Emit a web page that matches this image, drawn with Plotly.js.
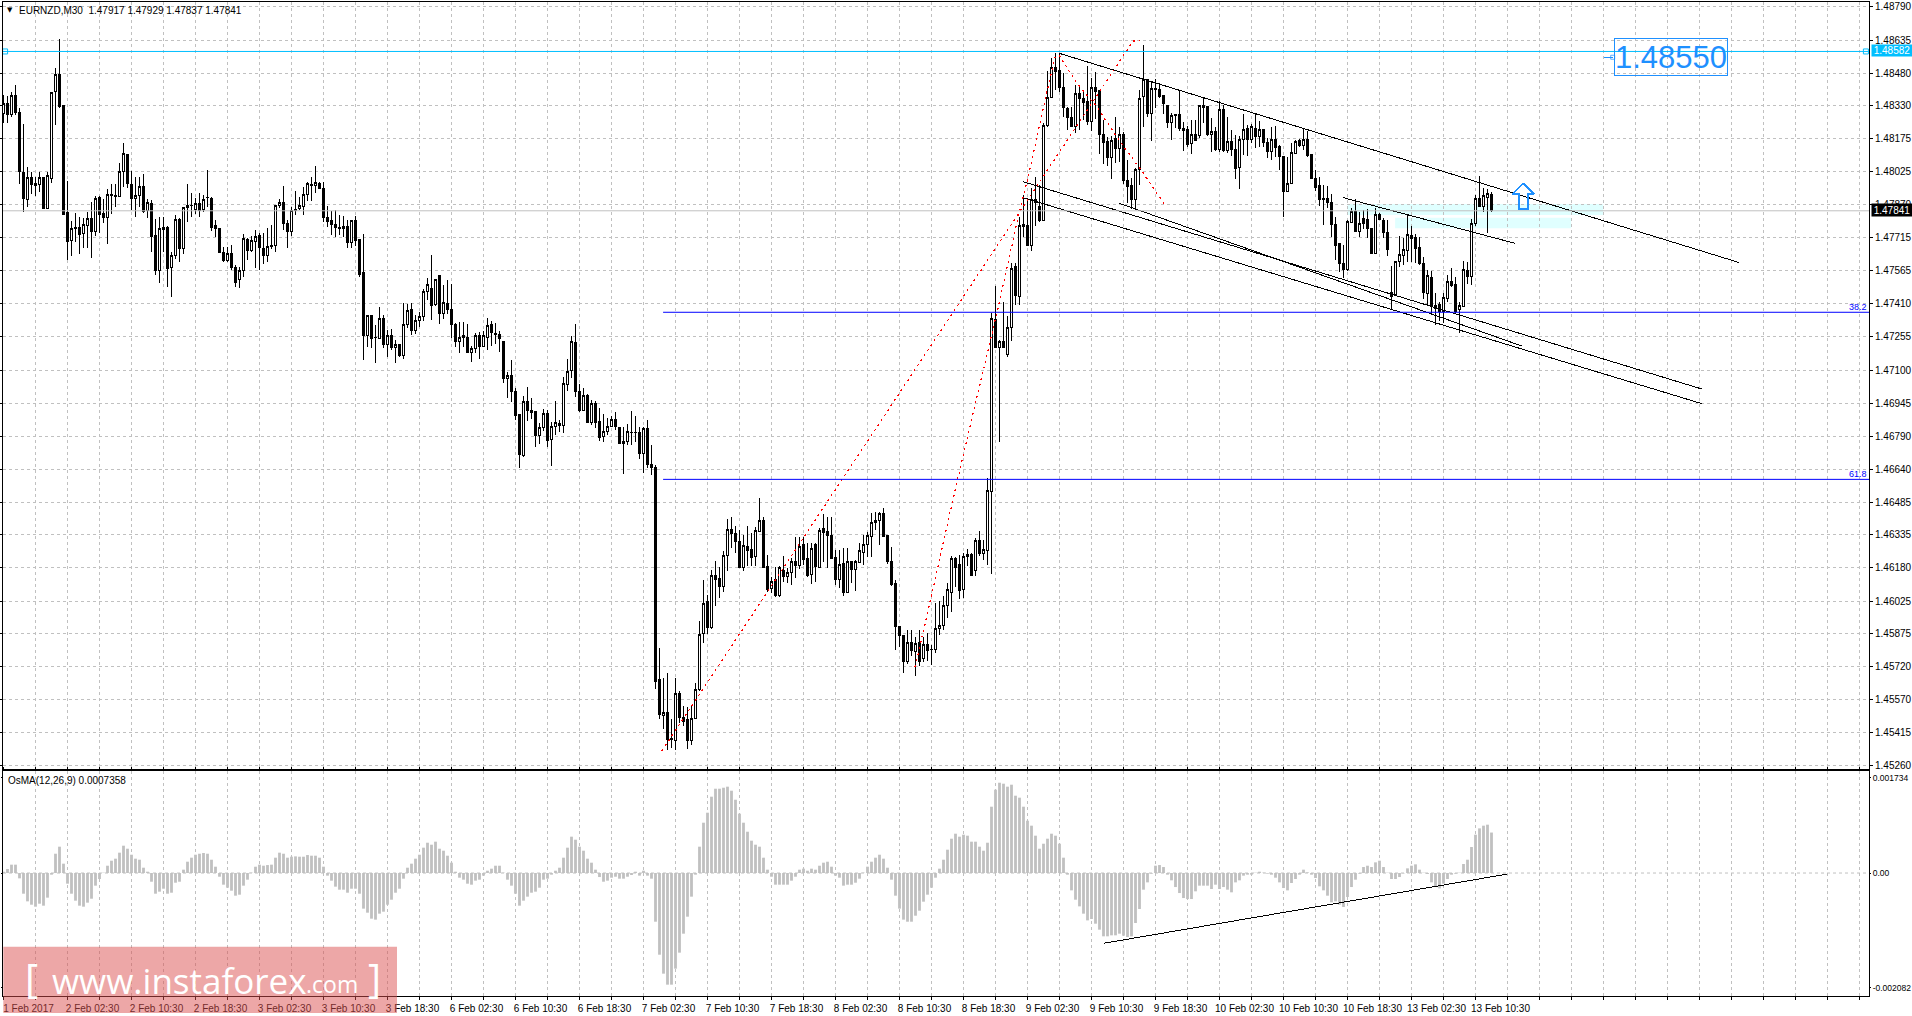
<!DOCTYPE html>
<html><head><meta charset="utf-8">
<script src="https://cdn.plot.ly/plotly-3.0.1.min.js"></script>
<style>html,body{margin:0;padding:0;background:#fff;overflow:hidden}#c{width:1912px;height:1016px}
.boxlayer path,.scatterlayer .js-line{shape-rendering:crispEdges}</style>
</head><body><div id="c"></div>
<script>
// prices are written as the five digits after the leading "1": 48294 = 1.48294
const opens=[48294,48341,48289,48375,48299,48021,47894,47996,47968,47964,47996,47852,47992,48395,48477,48333,47834,47702,47764,47764,
47736,47772,47806,47744,47903,47829,47810,47917,47914,47906,48024,48103,47964,47897,47910,47956,47843,47876,47724,47562,
47756,47764,47576,47635,47801,47665,47855,47865,47845,47876,47848,47903,47899,47773,47759,47648,47609,47643,47578,47522,
47562,47708,47655,47697,47724,47666,47634,47674,47680,47866,47880,47782,47744,47848,47852,47863,47916,47964,47958,47969,
47945,47812,47798,47779,47765,47758,47770,47694,47798,47708,47555,47259,47356,47251,47248,47341,47221,47262,47206,47220,
47170,47313,47383,47285,47330,47349,47465,47480,47403,47538,47362,47410,47383,47313,47232,47259,47254,47181,47201,47259,
47209,47252,47313,47271,47265,47234,47060,47076,47001,46894,46705,46955,46913,46908,46794,46832,46899,46778,46837,46852,
46842,47032,47096,47229,47001,46911,46983,46856,46945,46862,46790,46814,46837,46871,46832,46759,46769,46809,46809,46811,
46711,46829,46663,46648,45659,45493,45506,45383,45378,45597,45484,45473,45377,45479,45613,45873,46026,45902,46143,46129,
46093,46237,46360,46341,46301,46181,46282,46268,46232,46350,46401,46189,46084,46124,46054,46170,46139,46160,46212,46192,
46287,46222,46149,46291,46181,46364,46349,46333,46229,46127,46201,46065,46208,46174,46206,46253,46291,46325,46392,46400,
46434,46329,46212,46108,45910,45868,45744,45834,45791,45834,45757,45825,45802,45802,45899,45913,46005,46065,46225,46194,
46081,46232,46243,46167,46310,46246,46260,46535,47337,47206,47231,47174,47299,47581,47442,47775,47771,47678,47892,47861,
47798,48237,48367,48508,48493,48415,48319,48276,48232,48388,48364,48347,48254,48415,48400,48198,48163,48090,48175,48129,
48194,47984,47957,47892,48031,48372,48453,48295,48411,48406,48377,48333,48251,48284,48287,48226,48217,48152,48194,48189,
48332,48326,48195,48212,48124,48313,48121,48161,48124,48042,48174,48225,48174,48222,48186,48217,48158,48116,48174,48140,
48093,47930,47969,48109,48166,48143,48174,48104,47992,47957,47899,47899,47879,47775,47687,47597,47566,47788,47837,47744,
47803,47802,47760,47644,47826,47798,47741,47461,47450,47605,47634,47656,47727,47715,47668,47597,47458,47532,47388,47403,
47372,47433,47510,47496,47380,47396,47563,47535,47780,47899,47860,47904,47917];
const highs=[48379,48375,48392,48426,48317,48244,48043,48023,47996,48023,47996,48023,48392,48503,48640,48333,47979,47793,47829,47810,
47806,47837,47880,47911,47910,47894,47941,47965,47965,48065,48155,48105,48027,47996,47996,48010,47894,47891,47801,47814,
47810,47772,47651,47821,47806,47857,47964,47922,47899,47922,47914,48031,47903,47798,47759,47674,47671,47682,47589,47581,
47733,47713,47724,47752,47739,47736,47759,47775,47866,47894,47956,47798,47860,47933,47907,47953,47976,48000,48049,47976,
47976,47863,47841,47844,47821,47817,47798,47798,47817,47708,47731,47356,47356,47310,47395,47356,47287,47290,47240,47221,
47410,47407,47410,47356,47372,47476,47527,47634,47522,47541,47496,47519,47500,47318,47325,47325,47313,47212,47274,47279,
47283,47341,47330,47318,47283,47234,47093,47147,47015,46894,46981,47020,46969,46911,46852,46918,46915,46860,46956,46868,
47070,47150,47259,47314,47034,47018,46989,46961,46956,46922,46896,46876,46887,46905,46837,46834,46849,46910,46887,46834,
46837,46868,46752,46659,45806,45667,45690,45476,45667,45608,45540,45535,45543,45643,45935,46124,46054,46171,46212,46183,
46259,46406,46419,46377,46357,46333,46375,46344,46372,46504,46415,46240,46139,46186,46189,46236,46178,46225,46325,46325,
46322,46295,46298,46295,46367,46431,46419,46419,46264,46264,46271,46274,46208,46217,46295,46333,46349,46434,46442,46442,
46457,46329,46279,46124,45910,45868,45892,45892,45861,45892,45861,45879,45822,46019,46028,46050,46109,46236,46233,46240,
46248,46268,46251,46318,46352,46310,46598,47368,47492,47240,47416,47352,47600,47597,47814,47915,47902,47946,47997,47961,
48251,48493,48550,48574,48574,48481,48322,48322,48426,48419,48395,48516,48457,48485,48403,48264,48186,48189,48276,48233,
48209,48078,47992,48039,48403,48612,48453,48446,48453,48434,48380,48333,48298,48290,48403,48256,48236,48264,48264,48333,
48364,48329,48271,48232,48353,48333,48276,48217,48194,48189,48290,48240,48245,48291,48260,48220,48178,48229,48237,48147,
48093,48093,48158,48170,48174,48220,48214,48104,48031,48000,47961,47954,47919,47814,47690,47682,47799,47853,47895,47837,
47845,47848,47760,47853,47833,47806,47799,47585,47605,47724,47713,47822,47768,47733,47721,47628,47566,47563,47458,47419,
47458,47543,47574,47535,47419,47609,47605,47802,47915,48003,47946,47941,47929];
const lows=[48251,48251,48279,48286,47965,47837,47860,47919,47910,47930,47852,47852,47972,48240,48320,47823,47612,47632,47697,47640,
47669,47669,47621,47724,47736,47786,47686,47824,47860,47907,47953,47948,47845,47814,47860,47832,47809,47648,47542,47507,
47651,47488,47442,47615,47604,47640,47790,47814,47826,47810,47837,47860,47748,47720,47643,47604,47604,47566,47488,47483,
47531,47612,47651,47575,47566,47593,47603,47663,47651,47852,47752,47669,47724,47821,47845,47821,47888,47888,47922,47942,
47790,47767,47728,47721,47728,47717,47666,47666,47677,47531,47147,47206,47201,47135,47243,47201,47159,47193,47135,47162,
47153,47297,47263,47268,47299,47330,47426,47333,47398,47314,47339,47361,47248,47209,47181,47209,47178,47139,47178,47153,
47209,47193,47212,47221,47186,47042,46972,46953,46868,46646,46694,46865,46873,46744,46756,46818,46744,46654,46798,46814,
46806,47003,47062,46977,46904,46908,46855,46845,46829,46772,46767,46798,46834,46821,46755,46617,46752,46752,46767,46687,
46623,46643,46612,45619,45478,45431,45333,45341,45333,45457,45445,45338,45357,45476,45609,45830,45873,45896,46003,46039,
46070,46167,46271,46251,46178,46167,46189,46189,46189,46349,46183,46070,46062,46047,46043,46116,46112,46101,46132,46174,
46194,46139,46105,46116,46181,46209,46181,46225,46101,46085,46050,46065,46112,46074,46201,46194,46233,46233,46356,46287,
46322,46198,46096,45799,45814,45693,45733,45772,45679,45724,45744,45749,45729,45783,45868,45892,45946,45977,46093,46036,
46039,46191,46143,46143,46236,46217,46194,46152,47202,46768,47203,47160,47237,47403,47403,47718,47675,47656,47768,47791,
47795,48232,48364,48403,48395,48279,48217,48229,48202,48217,48264,48240,48214,48267,48105,48057,48050,47989,48062,48070,
47966,47876,47848,47850,47961,48232,48276,48167,48318,48364,48291,48225,48170,48225,48212,48121,48136,48105,48167,48178,
48248,48189,48116,48121,48116,48116,48112,48096,47989,47941,48101,48096,48155,48132,48140,48136,48085,48078,48093,48031,
47814,47930,47966,48105,48140,48124,48093,47988,47935,47861,47775,47853,47721,47612,47558,47527,47563,47783,47741,47721,
47755,47713,47640,47640,47799,47713,47633,47380,47445,47581,47589,47605,47605,47600,47589,47430,47396,47365,47310,47330,
47321,47419,47485,47368,47272,47392,47501,47496,47768,47857,47837,47740,47837];
const closes=[48341,48289,48375,48297,48023,47897,47996,47965,47958,47996,47852,48004,48392,48477,48325,47823,47697,47759,47758,47733,
47778,47806,47744,47899,47826,47809,47917,47910,47906,48024,48108,47969,47896,47914,47956,47837,47880,47720,47562,47759,
47762,47573,47632,47801,47665,47857,47866,47866,47874,47841,47894,47905,47762,47759,47646,47609,47643,47578,47507,47562,
47713,47655,47702,47720,47669,47632,47677,47680,47866,47879,47782,47744,47841,47841,47866,47917,47970,47959,47973,47944,
47809,47790,47779,47762,47759,47770,47693,47798,47702,47547,47259,47356,47246,47252,47341,47217,47259,47204,47220,47166,
47313,47378,47286,47331,47349,47468,47499,47400,47522,47362,47415,47383,47313,47232,47252,47251,47181,47201,47259,47212,
47263,47307,47274,47265,47246,47060,47076,47000,46888,46707,46955,46911,46902,46794,46834,46899,46772,46837,46857,46842,
47039,47094,47234,47000,46911,46983,46856,46945,46857,46786,46815,46837,46871,46837,46759,46769,46815,46811,46811,46710,
46829,46663,46646,45651,45498,45509,45380,45385,45597,45484,45465,45377,45481,45616,45871,46016,45901,46146,46126,46093,
46239,46360,46338,46301,46180,46285,46260,46229,46352,46401,46183,46081,46118,46054,46184,46139,46160,46212,46191,46282,
46217,46147,46271,46189,46352,46344,46330,46225,46124,46198,46065,46208,46174,46208,46259,46291,46329,46392,46400,46434,
46325,46209,46105,45907,45865,45744,45834,45795,45830,45744,45825,45795,45803,45899,45913,46006,46081,46225,46183,46074,
46232,46242,46147,46310,46245,46267,46538,47341,47203,47234,47203,47299,47574,47445,47772,47768,47678,47892,47881,47798,
48240,48367,48508,48488,48415,48322,48274,48232,48388,48363,48344,48256,48415,48395,48194,48158,48088,48167,48129,48194,
47981,47954,47892,48031,48364,48453,48295,48411,48405,48372,48338,48251,48282,48287,48225,48214,48147,48198,48170,48329,
48321,48194,48212,48124,48310,48121,48161,48124,48039,48174,48220,48174,48232,48186,48220,48158,48116,48174,48136,48093,
47930,47969,48113,48163,48143,48174,48096,47992,47950,47892,47895,47879,47775,47678,47597,47566,47791,47837,47744,47780,
47783,47760,47644,47825,47802,47740,47659,47442,47605,47636,47659,47733,47713,47665,47597,47461,47538,47399,47399,47372,
47439,47512,47492,47372,47399,47566,47535,47783,47899,47860,47910,47923,47841];
// OsMA histogram, millionths
const osma=[24,73,152,152,-97,-376,-515,-576,-612,-558,-594,-448,-30,351,479,170,-194,-376,-503,-594,
-612,-539,-467,-230,-109,6,133,224,261,370,497,442,333,261,242,97,24,-158,-376,-339,
-285,-376,-358,-176,-158,61,206,279,333,351,364,351,242,115,-67,-212,-267,-321,-412,-394,
-230,-121,6,115,152,133,145,152,279,370,351,279,297,303,297,297,327,315,315,279,
115,-48,-139,-248,-303,-303,-358,-285,-285,-376,-648,-721,-830,-848,-739,-703,-576,-485,-358,-285,
-103,97,170,261,333,461,551,515,570,442,406,315,188,24,-85,-121,-194,-212,-139,-121,
-48,42,79,133,133,6,-121,-230,-376,-594,-503,-430,-358,-339,-267,-121,-103,-30,42,97,
279,461,661,606,479,406,261,188,61,-73,-158,-139,-85,-67,-103,-103,-67,-36,24,-48,
42,-48,-103,-885,-1485,-1830,-2030,-2030,-1739,-1448,-1103,-794,-430,-30,479,915,1097,1388,1533,1533,
1551,1570,1497,1333,1079,915,751,588,515,479,279,61,-67,-212,-212,-212,-212,-139,-67,61,
79,42,79,61,133,188,206,115,-48,-85,-230,-212,-212,-176,-103,6,115,206,279,333,
261,97,-121,-412,-648,-848,-885,-885,-776,-685,-521,-394,-267,-85,79,242,424,624,715,661,
697,679,570,570,479,406,551,1206,1515,1642,1624,1570,1606,1406,1370,1206,951,861,679,442,
533,624,715,679,533,279,-30,-315,-485,-606,-739,-861,-836,-921,-1030,-1151,-1151,-1133,-1133,-1103,
-1139,-1164,-1151,-909,-654,-303,-170,-12,133,145,109,-30,-133,-255,-364,-455,-473,-473,-333,-230,
-230,-230,-291,-212,-291,-255,-303,-351,-170,-133,-48,-30,-30,6,24,6,-12,-30,-85,-170,
-273,-315,-182,-109,-30,61,12,-30,-91,-242,-315,-412,-533,-515,-576,-618,-436,-255,-121,-12,
109,133,109,194,224,109,6,-109,-109,-73,-6,85,133,158,61,6,-18,-170,-242,-279,
-194,-109,-30,-12,6,164,242,473,697,812,861,879,736];
const priceTicks=["1.48790","1.48635","1.48480","1.48330","1.48175","1.48025","1.47870","1.47715","1.47565","1.47410","1.47255","1.47100","1.46945","1.46790","1.46640","1.46485","1.46335","1.46180","1.46025","1.45875","1.45720","1.45570","1.45415","1.45260"];
const osmaTicks=["0.001734","0.00","-0.002082"];
const timeLabels=["1 Feb 2017","2 Feb 02:30","2 Feb 10:30","2 Feb 18:30","3 Feb 02:30","3 Feb 10:30","3 Feb 18:30","6 Feb 02:30","6 Feb 10:30","6 Feb 18:30","7 Feb 02:30","7 Feb 10:30","7 Feb 18:30","8 Feb 02:30","8 Feb 10:30","8 Feb 18:30","9 Feb 02:30","9 Feb 10:30","9 Feb 18:30","10 Feb 02:30","10 Feb 10:30","10 Feb 18:30","13 Feb 02:30","13 Feb 10:30"];
// analysis objects: bar index / price
const channelTop={x:[264,433.8],y:[1.48573,1.47601]};
const channelA={x:[254.95,424.6],y:[1.47976,1.47012]};
const channelB={x:[254.95,424.6],y:[1.47902,1.46944]};
const channelC={x:[278.95,379.6],y:[1.47876,1.47212]};
const channelD={x:[334.95,377.8],y:[1.47902,1.47690]};
const osmaTrend={x:[275,375.9],y:[-0.001278,-0.00002]};
const fibStraight={x:[164.6,282.4,284.2],y:[1.45329,1.48630,1.48635]};
const fibCurve={x:[227.9,230.8,238.3,244.1,249.1,253.9,256.4,260.8,263.1],y:[1.45721,1.45953,1.46575,1.47040,1.47426,1.47831,1.48017,1.48389,1.48570]};
const fibDown={x:[263.9,268.3,273.3,278.3,284.9,290.4],y:[1.48565,1.48435,1.48325,1.48185,1.48017,1.47868]};
const arrowX=[380,382.6,381.2,381.2,378.75,378.75,377.2,380];
const arrowY=[1.47970,1.47918,1.47918,1.47848,1.47848,1.47918,1.47918,1.47970];
const level382=1.47369, level618=1.46592, levelStart=164.9, levelEnd=466.4;
const resistance=1.48582, lastPrice=1.47841, target=1.48555;
const zones=[{x0:336,x1:399.9,y0:1.47822,y1:1.47873},{x0:347.9,x1:391.9,y0:1.47760,y1:1.47809}];

const PL=3,PW=1866,PT=2,PH=994;
const px=x=>(x-PL)/PW, py=y=>1-(y-PT)/PH;
const price=v=>1+v/1e5;
const idx=opens.map((_,i)=>i);
const line=(o,color,extra)=>({type:'scatter',mode:'lines',x:o.x,y:o.y,line:Object.assign({color,width:1},extra||{}),hoverinfo:'skip',showlegend:false});
const tickIdx=[],tickTxt=[];
for(let i=0;i<=464;i+=8){tickIdx.push(i);tickTxt.push(i%16===0&&timeLabels[i/16]?timeLabels[i/16]:'');}
const redDots={dash:'2px,4px',width:1.2};
const traces=[
 {type:'candlestick',x:idx,open:opens.map(price),high:highs.map(price),low:lows.map(price),close:closes.map(price),
  increasing:{line:{color:'#000',width:1},fillcolor:'#fff'},decreasing:{line:{color:'#000',width:1},fillcolor:'#000'},
  whiskerwidth:0,hoverinfo:'skip',showlegend:false,xaxis:'x',yaxis:'y'},
 line(channelTop,'#000'),line(channelA,'#000'),line(channelB,'#000'),line(channelC,'#000'),line(channelD,'#000'),
 line(fibStraight,'#ff0000',redDots),line(fibCurve,'#ff0000',redDots),line(fibDown,'#ff0000',redDots),
 {type:'scatter',mode:'lines',x:arrowX,y:arrowY,line:{color:'#1e90ff',width:2},hoverinfo:'skip',showlegend:false},
 {type:'scatter',mode:'markers',x:[0.4,465.6],y:[resistance,resistance],marker:{symbol:'square-open',size:5,color:'#00bfff',line:{width:1,color:'#00bfff'}},hoverinfo:'skip',showlegend:false},
 {type:'scatter',mode:'lines+markers',x:[400.1,402.3],y:[target,target],line:{color:'#1e90ff',width:1},marker:{symbol:'square-open',size:[0,4],color:'#1e90ff',line:{width:1,color:'#1e90ff'}},hoverinfo:'skip',showlegend:false},
 {type:'bar',x:idx,y:osma.map(v=>v/1e6),marker:{color:'#c0c0c0',line:{width:0}},width:0.7,xaxis:'x',yaxis:'y2',hoverinfo:'skip',showlegend:false},
 Object.assign(line(osmaTrend,'#000',{width:1}),{xaxis:'x',yaxis:'y2'})
];
const hline=(y,c,x0,x1,w)=>({type:'line',xref:'x',yref:'y',x0,x1,y0:y,y1:y,line:{color:c,width:w||1},layer:'above'});
const shapes=[
 ...zones.map(z=>({type:'rect',xref:'x',yref:'y',x0:z.x0,x1:z.x1,y0:z.y0,y1:z.y1,fillcolor:'#e0ffff',line:{width:0},layer:'below'})),
 {type:'line',xref:'paper',yref:'y2',x0:0,x1:1,y0:0,y1:0,line:{color:'#c0c0c0',width:1,dash:'3px,3px'},layer:'below'},
 hline(lastPrice,'#c0c0c0',-0.125,466.4),
 hline(resistance,'#00bfff',-0.125,466.4,1),
 hline(level382,'#0000ff',levelStart,levelEnd,1),
 hline(level618,'#0000ff',levelStart,levelEnd,1),
 {type:'rect',xref:'paper',yref:'paper',x0:px(3.3),x1:px(397),y0:py(946.7),y1:py(1013),fillcolor:'rgba(220,80,80,0.5)',line:{width:0},layer:'above'}
];
const FAM='"Liberation Sans", Arial, sans-serif';
const baseFont={family:FAM,size:10,color:'#000'};
const note=(text,x,y,anchorx,size,color,fam,anchory)=>({text,xref:'paper',yref:'paper',x:px(x),y:py(y),xanchor:anchorx,yanchor:anchory||'middle',showarrow:false,font:{family:fam||FAM,size,color},borderpad:0});
const annotations=[
 note('▼',6,10,'left',7,'#000','DejaVu Sans'),
 note('EURNZD,M30  1.47917 1.47929 1.47837 1.47841',18,10,'left',10,'#000'),
 note('OsMA(12,26,9) 0.0007358',7,780,'left',10,'#000'),
 note('38.2',1868,307,'right',9,'#0000ff'),
 note('61.8',1868,474,'right',9,'#0000ff'),
 {text:'1.48550',xref:'paper',yref:'paper',x:px(1671),y:py(57.3),xanchor:'center',yanchor:'middle',showarrow:false,width:112,height:36,font:{family:'Liberation Sans, sans-serif',size:31,color:'#1e90ff'},bordercolor:'#1e90ff',borderwidth:1,borderpad:0},
 {text:'1.48582',xref:'paper',yref:'paper',x:px(1871),y:py(50.6),xanchor:'left',yanchor:'middle',showarrow:false,width:40,height:11,align:'center',font:{family:FAM,size:10,color:'#fff'},bgcolor:'#00bfff',borderpad:0},
 {text:'1.47841',xref:'paper',yref:'paper',x:px(1871),y:py(210),xanchor:'left',yanchor:'middle',showarrow:false,width:40,height:12,align:'center',font:{family:FAM,size:10,color:'#fff'},bgcolor:'#000',borderpad:0},
 note('[',24,977,'left',40,'#fff','Open Sans'),
 note('www.instaforex',51,980,'left',35,'#fff','Open Sans'),
 note('.com',305,984,'left',23,'#fff','Open Sans'),
 note(']',367,977,'left',40,'#fff','Open Sans')
];
const layout={
 width:1912,height:1016,paper_bgcolor:'#fff',plot_bgcolor:'#fff',showlegend:false,hovermode:false,dragmode:false,
 margin:{l:PL,r:1912-PL-PW,t:PT,b:1016-PT-PH,pad:0},font:baseFont,boxgap:0.5,boxgroupgap:0,
 xaxis:{range:[-0.125,466.375],anchor:'y2',domain:[0,1],rangeslider:{visible:false},tickmode:'array',tickvals:tickIdx,ticktext:tickTxt,
  ticks:'outside',ticklen:3,tickcolor:'#000',tickfont:baseFont,ticklabelshift:25,tickangle:0,
  showgrid:true,gridcolor:'#c0c0c0',griddash:'3px,3px',gridwidth:1,showline:true,linecolor:'#000',linewidth:1,mirror:'all',zeroline:false,layer:'below traces'},
 yaxis:{domain:[(996-769)/PH,1],range:[1.45245,1.48812],side:'right',anchor:'x',tickmode:'array',tickvals:priceTicks.map(Number),ticktext:priceTicks,
  ticks:'outside',ticklen:3,tickcolor:'#000',tickfont:baseFont,showgrid:true,gridcolor:'#c0c0c0',griddash:'3px,3px',gridwidth:1,showline:true,linecolor:'#000',linewidth:1,mirror:'all',zeroline:false,fixedrange:true},
 yaxis2:{domain:[0,(996-771)/PH],range:[-0.002236,0.001855],side:'right',anchor:'x',tickmode:'array',tickvals:osmaTicks.map(Number),ticktext:osmaTicks,
  ticks:'outside',ticklen:1,tickcolor:'#000',tickfont:Object.assign({},baseFont,{size:8.5}),showgrid:false,showline:true,linecolor:'#000',linewidth:1,mirror:'all',zeroline:false,fixedrange:true},
 shapes,annotations
};
Plotly.newPlot('c',traces,layout,{displayModeBar:false,staticPlot:true,responsive:false});
</script></body></html>
